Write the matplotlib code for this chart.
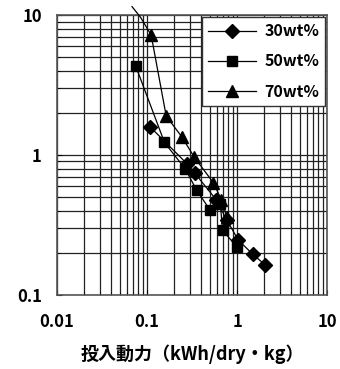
import matplotlib
matplotlib.use('Agg')
from matplotlib import pyplot as plt

plt.rcParams['font.family'] = ['Noto Sans CJK JP', 'DejaVu Sans']

# 30wt%
x30 = [0.108, 0.276, 0.34, 0.59, 0.77, 1.03, 1.49, 2.05]
y30 = [1.59, 0.87, 0.74, 0.477, 0.343, 0.247, 0.196, 0.164]
# 50wt%
x50 = [0.075, 0.156, 0.264, 0.356, 0.50, 0.65, 0.69, 0.99]
y50 = [4.3, 1.23, 0.80, 0.56, 0.405, 0.45, 0.291, 0.221]
# 70wt%
x70 = [0.111, 0.163, 0.243, 0.333, 0.545, 0.67, 0.77]
y70 = [7.2, 1.9, 1.35, 0.97, 0.634, 0.48, 0.36]
# fitted curve for 70wt% running above the frame
fit_x = [0.068, 0.085, 0.111]
fit_y = [11.5, 9.6, 7.2]

xticks = [0.01, 0.1, 1, 10]
xticklabels = ['0.01', '0.1', '1', '10']
yticks = [0.1, 1, 10]
yticklabels = ['0.1', '1', '10']

fig = plt.figure(figsize=(3.4, 3.69), dpi=100)
ax = fig.add_axes([0.168, 0.2005, 0.794, 0.7585])

ax.plot(fit_x, fit_y, color='black', lw=0.9, clip_on=False, zorder=3)
ax.plot(x30, y30, color='black', lw=0.9, marker='D', ms=7, label='30wt%', zorder=4)
ax.plot(x50, y50, color='black', lw=0.9, marker='s', ms=7.5, label='50wt%', zorder=4)
ax.plot(x70, y70, color='black', lw=0.9, marker='^', ms=8.5, label='70wt%', zorder=4)

ax.set_xscale('log')
ax.set_yscale('log')
ax.set_xlim(0.01, 10)
ax.set_ylim(0.1, 10)
ax.grid(True, which='both', color='#222222', lw=0.9)
ax.set_xticks(xticks)
ax.set_xticklabels(xticklabels)
ax.set_yticks(yticks)
ax.set_yticklabels(yticklabels)
ax.tick_params(which='both', direction='in', labelsize=12)
for lab in ax.get_xticklabels() + ax.get_yticklabels():
    lab.set_fontweight('bold')
ax.tick_params(axis='x', pad=13)
ax.tick_params(axis='y', pad=11)
for s in ax.spines.values():
    s.set_color('#555555')
    s.set_linewidth(1.2)

ax.set_xlabel('投入動力（kWh/dry・kg）', fontsize=13, fontweight='bold', labelpad=10)

leg = ax.legend(loc='upper right', frameon=True, fancybox=False,
                framealpha=1, edgecolor='#333333', borderaxespad=0.1,
                handlelength=3, labelspacing=0.9, handletextpad=0.5,
                prop={'weight': 'bold', 'size': 11.5})
leg.get_frame().set_linewidth(1.0)

fig.savefig('out.png', dpi=100)
